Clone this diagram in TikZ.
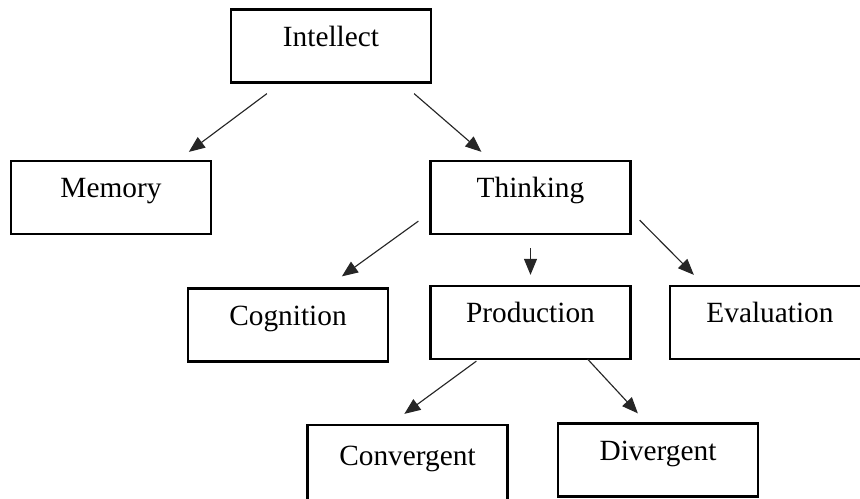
\documentclass[tikz,border=0pt]{standalone}
\usepackage{fontspec}
\setmainfont{Liberation Serif}
\usepackage{tikz}
\usetikzlibrary{arrows.meta,calc}

\begin{document}
\begin{tikzpicture}[x=0.02cm,y=-0.02cm]
    \tikzstyle{box}=[draw=black,line width=1.3pt,minimum width=4cm,minimum height=1.46cm,inner sep=0pt,
                     text height=0.5em,text depth=0.5em,font=\fontsize{16.7}{20}\selectfont]
    \tikzstyle{arr}=[draw=black!85,line width=0.65pt,-{Triangle[length=0.32cm,width=0.26cm]}]

\useasboundingbox (0,0) rectangle (860,498);

\node[box] (intellect) at (331,46) {Intellect};
\node[box] (memory) at (111,197.5) {Memory};
\node[box] (thinking) at (530.5,197.5) {Thinking};
\node[box] (cognition) at (288,325) {Cognition};
\node[box] (production) at (530.5,322.5) {Production};
\node[box, minimum width=4cm] (evaluation) at (770,322.5) {Evaluation};
\node[box, minimum height=1.6cm] (convergent) at (407.5,465) {Convergent};
\node[box] (divergent) at (658,460) {Divergent};

% intellect splits in two
\draw[arr] ($(intellect.south west)+(37,10)$) -- ($(memory.north west)+(179,-8)$);
\draw[arr] ($(intellect.south east)+(-18,10)$) -- ($(thinking.north west)+(52,-8)$);

% thinking
\draw[arr] ($(thinking.south west)+(-11,-14)$) -- ($(cognition.north west)+(155,-11)$);
\draw[arr, shorten <=13*0.02cm, shorten >=10*0.02cm] (thinking) -- (production);
\draw[arr] ($(thinking.south east)+(8,-15)$) -- ($(evaluation.north west)+(25,-10)$);

% production
\draw[arr] ($(production.south west)+(47,1)$) -- ($(convergent.north west)+(98,-10)$);
\draw[arr] ($(production.south east)+(-44,-1)$) -- ($(divergent.north west)+(81,-9)$);
\end{tikzpicture}
\end{document}
